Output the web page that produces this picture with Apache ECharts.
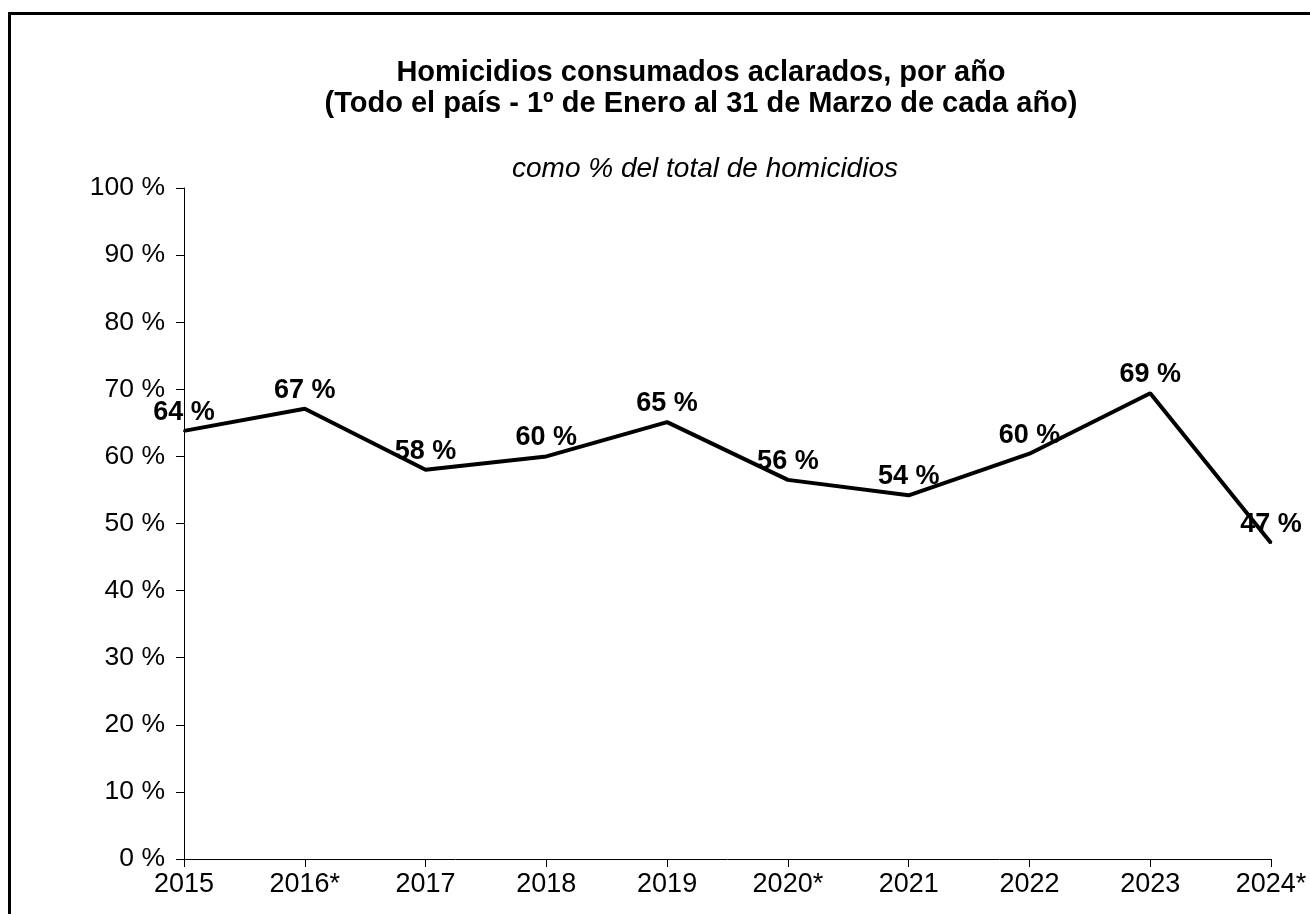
<!DOCTYPE html>
<html><head><meta charset="utf-8">
<script src="https://cdn.jsdelivr.net/npm/echarts@6/dist/echarts.min.js"></script>
<style>html,body{margin:0;padding:0;background:#fff}#c{width:1310px;height:914px}</style>
</head><body><div id="c"></div>
<script>
var categories = ['2015','2016*','2017','2018','2019','2020*','2021','2022','2023','2024*'];
var values = [63.8, 67.1, 58.0, 60.0, 65.1, 56.5, 54.2, 60.4, 69.4, 47.1];
var labels = ['64 %','67 %','58 %','60 %','65 %','56 %','54 %','60 %','69 %','47 %'];
var yTicks = [0,10,20,30,40,50,60,70,80,90,100];
var titleText = 'Homicidios consumados aclarados, por año\n(Todo el país - 1º de Enero al 31 de Marzo de cada año)';
var subText = 'como % del total de homicidios';

var font = '"Liberation Sans", Arial, sans-serif';
var chart = echarts.init(document.getElementById('c'));
chart.setOption({
  backgroundColor: '#fff',
  animation: false,
  graphic: [{
    type: 'rect', shape: {x: 9.5, y: 13.5, width: 1400, height: 1000},
    style: {fill: 'none', stroke: '#000', lineWidth: 3}, z: -1
  }],
  title: [{
    text: titleText, left: 701, top: 57, textAlign: 'center', padding: 0,
    textStyle: {fontFamily: font, fontSize: 29, fontWeight: 'bold', color: '#000', lineHeight: 31}
  }, {
    text: subText, left: 705, top: 155, textAlign: 'center', padding: 0,
    textStyle: {fontFamily: font, fontSize: 28, fontStyle: 'italic', fontWeight: 'normal', color: '#000', lineHeight: 28}
  }],
  grid: {left: 184, top: 188, right: 39, bottom: 55, containLabel: false},
  xAxis: {
    type: 'category', data: categories, boundaryGap: false,
    axisLine: {lineStyle: {color: '#000', width: 1}},
    axisTick: {show: true, length: 8, alignWithLabel: true, lineStyle: {color: '#000'}},
    axisLabel: {fontFamily: font, fontSize: 27, color: '#000', margin: 12}
  },
  yAxis: {
    type: 'value', min: 0, max: 100, interval: 10,
    axisLine: {show: true, lineStyle: {color: '#000', width: 1}},
    axisTick: {show: true, length: 8, lineStyle: {color: '#000'}},
    splitLine: {show: false},
    axisLabel: {fontFamily: font, fontSize: 26.5, color: '#000', margin: 19,
      formatter: function (v) { return yTicks.indexOf(v) >= 0 ? v + ' %' : ''; }}
  },
  series: [{
    type: 'line', data: values, symbol: 'circle', symbolSize: 2, showSymbol: true,
    itemStyle: {color: '#000'},
    lineStyle: {color: '#000', width: 4},
    label: {
      show: true, position: 'top', distance: 4,
      fontFamily: font, fontSize: 27, fontWeight: 'bold', color: '#000',
      formatter: function (p) { return labels[p.dataIndex]; }
    },
    z: 3
  }]
});
</script></body></html>
